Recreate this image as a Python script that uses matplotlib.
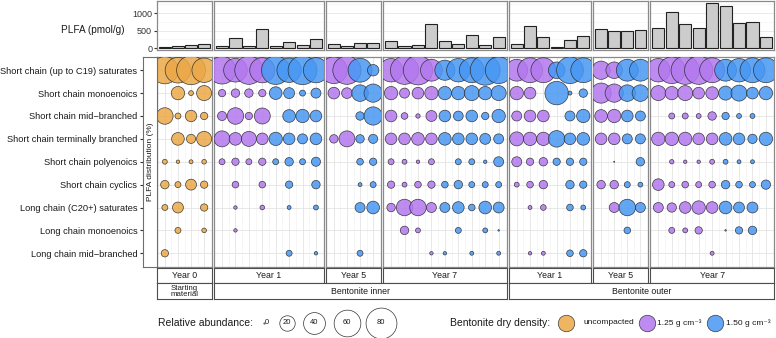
import numpy as np
import matplotlib.pyplot as plt

plt.rcParams['font.family'] = ['Liberation Sans', 'DejaVu Sans']

W, H = 776, 338

categories = [
    "Short chain (up to C19) saturates",
    "Short chain monoenoics",
    "Short chain mid\u2212branched",
    "Short chain terminally branched",
    "Short chain polyenoics",
    "Short chain cyclics",
    "Long chain (C20+) saturates",
    "Long chain monoenoics",
    "Long chain mid\u2212branched",
]

facet_years = ["Year 0", "Year 1", "Year 5", "Year 7", "Year 1", "Year 5", "Year 7"]
group_labels = ["Starting\nmaterial", "Bentonite inner", "Bentonite outer"]
facet_group = [0, 1, 1, 1, 2, 2, 2]

# dry density of each sample, per facet
dens_y0_start = ["unc"] * 4
dens_y1_inner = ["1.25"] * 4 + ["1.50"] * 4
dens_y5_inner = ["1.25"] * 2 + ["1.50"] * 2
dens_y7_inner = ["1.25"] * 4 + ["1.50"] * 5
dens_y1_outer = ["1.25"] * 3 + ["1.50"] * 3
dens_y5_outer = ["1.25"] * 2 + ["1.50"] * 2
dens_y7_outer = ["1.25"] * 5 + ["1.50"] * 4

# total PLFA (pmol/g), per sample
plfa_y0_start = [25, 55, 83, 130]
plfa_y1_inner = [63, 283, 72, 540, 54, 169, 83, 272]
plfa_y5_inner = [120, 72, 140, 140]
plfa_y7_inner = [206, 54, 100, 692, 206, 112, 369, 83, 330]
plfa_y1_outer = [112, 644, 330, 43, 225, 349]
plfa_y5_outer = [549, 492, 492, 520]
plfa_y7_outer = [569, 1044, 701, 569, 1301, 1216, 729, 749, 312]

# relative abundance (%), one list per category row, 0 = not detected
abund_y0_start = [
    [62, 55, 70, 50],
    [0, 15, 2, 19],
    [23, 3, 11, 4.5],
    [0, 13.5, 7, 19],
    [2, 1, 1.3, 1.8],
    [6, 3, 10, 4.5],
    [3, 10, 0, 4.5],
    [0, 3, 0, 1.8],
    [4.5, 0, 0, 0],
]
abund_y1_inner = [
    [64, 47, 67, 53, 68, 50, 70, 53],
    [4.5, 6, 6, 4.5, 13.5, 10, 3, 8.4],
    [7, 23, 4.5, 21.5, 0, 13.5, 15, 11.4],
    [21.5, 13.5, 19, 11.4, 15, 11.4, 8.4, 11.4],
    [3, 4.5, 3, 4.5, 3, 6, 3, 7],
    [0, 3.7, 0, 3.7, 0, 4.5, 0, 6],
    [0, 1, 0, 1.8, 0, 1.3, 0, 2],
    [0, 1, 0, 0, 0, 0, 0, 0],
    [0, 0, 0, 0, 0, 3, 0, 1],
]
abund_y5_inner = [
    [60, 67, 48, 11],
    [11.4, 9.6, 23, 28],
    [0, 0, 6, 28],
    [6, 21.5, 6, 7],
    [0, 0, 3.7, 4.5],
    [0, 0, 1.3, 3],
    [0, 0, 8.4, 13.5],
    [0, 0, 0, 0],
    [0, 0, 3, 0],
]
abund_y7_inner = [
    [46, 67, 72, 40, 34, 46, 52, 75, 60],
    [15, 8.4, 11.4, 15, 15, 15, 19, 15, 19],
    [11.4, 3.7, 1.6, 10, 11.4, 8, 11.4, 4.5, 15],
    [11.4, 11.4, 13.5, 11.4, 13.5, 11.4, 11.4, 10, 8.4],
    [3, 2, 1, 3, 0, 3, 3, 1, 8.4],
    [4.5, 2, 3.7, 4.5, 3.7, 6, 3, 3, 3],
    [6, 23, 23, 8.4, 8.4, 11.4, 3.7, 13.5, 10],
    [0, 6, 2, 0, 0, 3, 0, 2, 0.2],
    [0, 0, 0, 1, 1, 0, 1.3, 0, 1.3],
]
abund_y1_outer = [
    [40, 52, 52, 23, 60, 52],
    [15, 11.4, 0, 46, 1.3, 6],
    [8.4, 11.4, 11.4, 0, 8.4, 15],
    [16.5, 15, 15, 23, 11.4, 13.5],
    [8.4, 4.5, 6, 4.5, 4.5, 4.5],
    [2, 3.7, 6, 0, 6, 4.5],
    [0, 1.3, 2.7, 0, 3.7, 2],
    [0, 0, 0, 0, 0, 0],
    [0, 1, 1.3, 0, 3.7, 4.5],
]
abund_y5_outer = [
    [28, 23, 40, 40],
    [34, 28, 23, 23],
    [13.5, 15, 11.4, 8.4],
    [11.4, 11.4, 8.4, 8.4],
    [0, 0.1, 0, 6],
    [6, 6, 3, 2],
    [0, 8.4, 23, 8.4],
    [0, 0, 3.7, 0],
    [0, 0, 0, 0],
]
abund_y7_outer = [
    [46, 60, 67, 67, 52, 40, 46, 52, 52],
    [19, 15, 19, 11.4, 13.5, 16.5, 21.5, 11.4, 15],
    [0, 3, 3, 2, 6, 4.5, 2, 2, 0],
    [15, 15, 15, 11.4, 11.4, 13.5, 11.4, 7.3, 15],
    [0, 1.6, 1, 1, 2, 2, 1.3, 1.3, 0],
    [11.4, 3, 3.7, 3, 3.7, 6, 3.7, 3, 7.3],
    [8.4, 7.3, 11.4, 15, 11.4, 13.5, 10, 10, 0],
    [0, 3, 2, 4.5, 0, 0.2, 4.5, 6, 0],
    [0, 0, 0, 0, 1.3, 0, 0, 0, 0],
]

dens_labels = {"unc": "uncompacted", "1.25": "1.25 g cm\u207b\u00b3", "1.50": "1.50 g cm\u207b\u00b3"}
dens_colors = {"unc": "#EBA848", "1.25": "#B378EF", "1.50": "#4797F3"}
legend_sizes = [0, 20, 40, 60, 80]

facets = [
    (dens_y0_start, plfa_y0_start, abund_y0_start),
    (dens_y1_inner, plfa_y1_inner, abund_y1_inner),
    (dens_y5_inner, plfa_y5_inner, abund_y5_inner),
    (dens_y7_inner, plfa_y7_inner, abund_y7_inner),
    (dens_y1_outer, plfa_y1_outer, abund_y1_outer),
    (dens_y5_outer, plfa_y5_outer, abund_y5_outer),
    (dens_y7_outer, plfa_y7_outer, abund_y7_outer),
]

fig = plt.figure(figsize=(W / 100, H / 100), dpi=100)


def box(x0, y0, x1, y1):
    # pixel rectangle (top-left origin) -> figure fraction
    return [x0 / W, 1 - y1 / H, (x1 - x0) / W, (y1 - y0) / H]


def bubble_area(v):
    # area-proportional size: diameter ~3.45 px * sqrt(%)
    d_px = 3.45 * np.sqrt(np.asarray(v, dtype=float))
    return (d_px * 72 / 100) ** 2


def style_panel(ax):
    ax.set_facecolor("white")
    for s in ax.spines.values():
        s.set_color("#8a8a8a")
        s.set_linewidth(0.9)
    ax.tick_params(length=0, labelleft=False, labelbottom=False)


def strip_box(x0, y0, x1, y1, label, fs):
    st = fig.add_axes(box(x0, y0, x1, y1))
    st.set_xticks([])
    st.set_yticks([])
    for s in st.spines.values():
        s.set_color("#4d4d4d")
        s.set_linewidth(0.8)
    st.text(0.5, 0.5, label, ha="center", va="center", fontsize=fs,
            color="#1a1a1a", linespacing=0.8, transform=st.transAxes)


counts = [len(f[0]) for f in facets]
x_start, x_end, gap = 157, 774, 2
unit = (x_end - x_start - gap * (len(counts) - 1)) / sum(counts)
edges = []
x = x_start
for n in counts:
    edges.append((x, x + n * unit))
    x += n * unit + gap

top_y = (1, 50)
bub_y = (56.5, 267)
nrow = len(categories)

for i, (dens, plfa, abund) in enumerate(facets):
    n = len(dens)
    xs = np.arange(1, n + 1)
    x0, x1 = edges[i]

    # bar panel
    axb = fig.add_axes(box(x0, top_y[0], x1, top_y[1]))
    style_panel(axb)
    axb.set_xlim(0.4, n + 0.6)
    axb.set_ylim(-55, 1345)
    axb.set_yticks([0, 500, 1000])
    axb.set_yticks([250, 750, 1250], minor=True)
    axb.grid(True, which="major", axis="y", color="#e6e6e6", lw=0.6)
    axb.grid(True, which="minor", axis="y", color="#f2f2f2", lw=0.4)
    axb.set_axisbelow(True)
    axb.tick_params(which="both", length=0)
    axb.bar(xs, plfa, width=0.9, color="#cccccc", edgecolor="#222222", linewidth=0.8)
    if i == 0:
        axb.tick_params(axis="y", which="major", length=2, color="#333333",
                        labelleft=True, labelsize=6.5, pad=1.5, labelcolor="#333333")
    axb.set_xticks([])

    # bubble panel
    ax = fig.add_axes(box(x0, bub_y[0], x1, bub_y[1]))
    style_panel(ax)
    ax.set_xlim(0.4, n + 0.6)
    ax.set_ylim(nrow + 0.6, 0.4)
    ax.set_xticks(xs)
    ax.set_xticks(xs[:-1] + 0.5, minor=True)
    ax.set_yticks(np.arange(1, nrow + 1))
    ax.grid(True, which="major", color="#e4e4e4", lw=0.6)
    ax.grid(True, which="minor", axis="x", color="#f0f0f0", lw=0.4)
    ax.set_axisbelow(True)
    ax.tick_params(which="both", length=0, labelleft=False, labelbottom=False)
    vals = np.array(abund, dtype=float)
    for j in range(n):
        col = vals[:, j]
        keep = col > 0
        rows = np.arange(1, nrow + 1)[keep]
        ax.scatter(np.full(keep.sum(), xs[j]), rows, s=bubble_area(col[keep]),
                   facecolor=dens_colors[dens[j]], alpha=0.85,
                   edgecolor="#222222", linewidth=0.5, zorder=3)

    strip_box(x0, 268, x1, 283, facet_years[i], 6.3)

# group strips
for g, label in enumerate(group_labels):
    idx = [k for k, fg in enumerate(facet_group) if fg == g]
    strip_box(edges[idx[0]][0], 283, edges[idx[-1]][1], 299, label, 6.3 if g else 5.6)

# left strip holding the y title, with category labels
ys = fig.add_axes(box(143, bub_y[0], 157, bub_y[1]))
ys.set_ylim(nrow + 0.6, 0.4)
ys.set_xticks([])
ys.set_yticks(np.arange(1, nrow + 1))
ys.set_yticklabels(categories)
ys.tick_params(axis="y", length=2.5, color="#333333", labelsize=6.7, pad=1.5,
               labelcolor="#1a1a1a")
for s in ys.spines.values():
    s.set_color("#6e6e6e")
    s.set_linewidth(0.8)
ys.text(0.5, 0.5, "PLFA distribution (%)", rotation=90, ha="center", va="center",
        fontsize=6, color="#1a1a1a", transform=ys.transAxes)

fig.text(93 / W, 1 - 30 / H, "PLFA (pmol/g)", ha="center", va="center",
         fontsize=7.2, color="#1a1a1a")

# legends
lg = fig.add_axes([0, 0, 1, 1])
lg.set_xlim(0, W)
lg.set_ylim(H, 0)
lg.axis("off")
lg.patch.set_alpha(0)

ly = 323
lg.text(158, ly, "Relative abundance:", ha="left", va="center", fontsize=7.5, color="#1a1a1a")
size_x = [264, 287, 314, 347, 381]
for sx, v in zip(size_x, legend_sizes):
    lg.scatter([sx], [ly], s=bubble_area(max(v, 0.15)), facecolor="white",
               edgecolor="#333333", linewidth=0.5)
    lg.text(sx + (3 if v == 0 else 0), ly, str(v), ha="center", va="center",
            fontsize=5.5, color="#1a1a1a")

lg.text(450, ly, "Bentonite dry density:", ha="left", va="center", fontsize=7.5, color="#1a1a1a")
dens_x = [566, 647, 715]
dens_tx = [584, 657, 726]
for dx, tx, key in zip(dens_x, dens_tx, ["unc", "1.25", "1.50"]):
    lg.scatter([dx], [ly], s=(16.5 * 0.72) ** 2, facecolor=dens_colors[key], alpha=0.85,
               edgecolor="#222222", linewidth=0.5)
    lg.text(tx, ly, dens_labels[key], ha="left", va="center", fontsize=6, color="#1a1a1a")

fig.savefig("out.png", dpi=100)
